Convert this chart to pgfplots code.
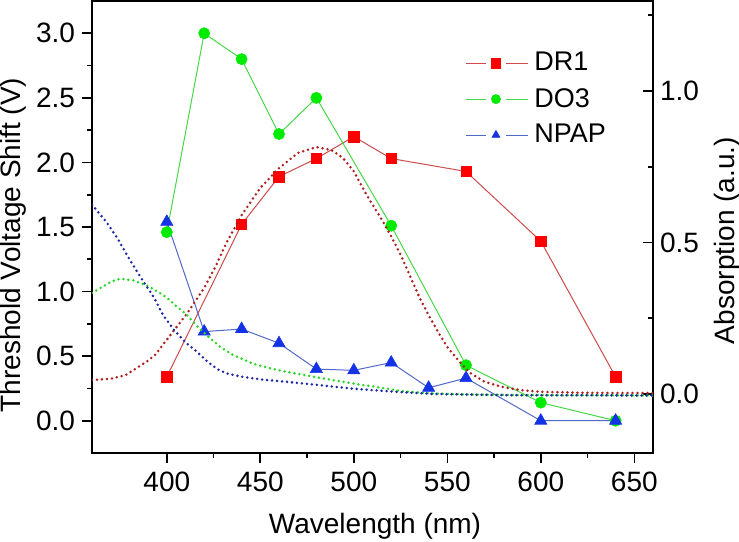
\documentclass[border=0pt]{standalone}
\usepackage{pgfplots}
\pgfplotsset{compat=1.18}
\usepackage{fontspec}
\setmainfont{Liberation Sans}
\setsansfont{Liberation Sans}

\definecolor{drm}{RGB}{255,0,0}
\definecolor{drl}{RGB}{205,75,75}
\definecolor{dom}{RGB}{0,235,0}
\definecolor{dol}{RGB}{70,215,70}
\definecolor{npm}{RGB}{20,50,230}
\definecolor{npl}{RGB}{80,105,200}
\definecolor{drd}{RGB}{175,30,30}
\definecolor{dod}{RGB}{40,215,40}
\definecolor{npd}{RGB}{30,40,165}

\pgfplotstableread{
x y
360 0.046
370 0.050
378 0.062
384 0.086
390 0.110
394 0.130
402 0.195
411 0.267
420 0.350
426 0.420
432 0.500
440 0.590
450 0.680
460 0.745
470 0.795
480 0.815
488 0.805
494 0.780
500 0.735
507 0.655
515 0.575
520 0.520
525 0.460
530 0.390
535 0.320
540 0.260
545 0.205
550 0.155
556 0.110
562 0.070
570 0.040
580 0.022
590 0.012
600 0.007
620 0.004
640 0.003
660 0.003
}\drabs

\pgfplotstableread{
x y
360 0.333
366 0.355
370 0.370
375 0.380
382 0.375
390 0.356
395 0.338
400 0.318
405 0.290
410 0.265
416 0.225
422 0.190
428 0.158
435 0.130
446 0.100
455 0.085
464 0.073
482 0.053
500 0.034
515 0.020
526 0.009
540 0.002
560 -0.002
600 -0.004
660 -0.005
}\doabs

\pgfplotstableread{
x y
360 0.625
364 0.595
368 0.565
374 0.510
379 0.455
384 0.405
388 0.366
393 0.320
398 0.260
404 0.210
410 0.170
416 0.140
422 0.105
428 0.078
433 0.066
440 0.057
450 0.048
464 0.040
480 0.030
500 0.017
520 0.008
542 0.000
580 -0.004
660 -0.005
}\npabs

\begin{document}
\begin{tikzpicture}
\pgfplotsset{
  every axis/.append style={font=\fontsize{14}{16}\selectfont},
  every tick label/.append style={font=\fontsize{14}{16}\selectfont},
}
\begin{axis}[
  name=main,
  at={(0,0)}, anchor=south west,
  scale only axis,
  width=280.5pt, height=226pt,
  xmin=360, xmax=660,
  ymin=-0.25, ymax=3.25,
  xtick={400,450,...,650},
  ytick={0,0.5,...,3.0},
  minor x tick num=1,
  minor y tick num=1,
  xtick pos=bottom, ytick pos=left,
  tick align=outside,
  major tick length=5pt,
  minor tick length=2.5pt,
  axis line style={line width=0.8pt},
  every tick/.style={line width=0.8pt, black},
  /pgf/number format/assume math mode=true,
  yticklabel style={/pgf/number format/.cd, fixed, fixed zerofill, precision=1},
  xticklabel style={yshift=-1pt},
  xlabel={Wavelength (nm)},
  ylabel={Threshold Voltage Shift (V)},
  every axis x label/.style={at={(axis description cs:0.5045,-0.179)}, anchor=base, inner sep=0pt},
  every axis y label/.style={at={(axis description cs:-0.164,0.46)}, rotate=90, anchor=north, inner sep=0pt},
  legend style={draw=none, fill=none, at={(axis description cs:0.665,0.896)}, anchor=north west, inner sep=0pt, row sep=3.1pt, font=\fontsize{13.5}{15}\selectfont},
  legend cell align=left,
  legend image code/.code={
    \draw[#1,mark=none] (0pt,0pt) -- (10pt,0pt);
    \draw[#1,mark=none] (20pt,0pt) -- (31pt,0pt);
    \draw[#1,mark size=2.3pt] plot coordinates {(15pt,0pt)};
    \path (32pt,0pt);
  },
]
\addplot[drl, line width=0.5pt, mark=square*, mark size=2.6pt, mark options={draw=drm, fill=drm, line width=0.3pt}]
  coordinates {(400,0.34) (440,1.52) (460,1.89) (480,2.03) (500,2.20) (520,2.03) (560,1.93) (600,1.39) (640,0.34)};
\addlegendentry{DR1}
\addplot[dol, line width=0.5pt, mark=*, mark size=2.8pt, mark options={draw=dom, fill=dom, line width=0.3pt}]
  coordinates {(400,1.46) (420,3.00) (440,2.80) (460,2.22) (480,2.50) (520,1.51) (560,0.43) (600,0.14) (640,0.00)};
\addlegendentry{DO3}
\addplot[npl, line width=0.5pt, mark=triangle*, mark size=3.5pt, mark options={draw=npm, fill=npm, line width=0.3pt}]
  coordinates {(400,1.54) (420,0.69) (440,0.71) (460,0.60) (480,0.40) (500,0.39) (520,0.45) (540,0.255) (560,0.33) (600,0.00) (640,0.00)};
\addlegendentry{NPAP}
\end{axis}

\begin{axis}[
  at={(0,0)}, anchor=south west,
  scale only axis,
  width=280.5pt, height=226pt,
  xmin=360, xmax=660,
  ymin=-0.195, ymax=1.297,
  axis x line=none,
  axis y line*=right,
  ytick={0,0.5,1.0},
  minor ytick={-0.25,0.25,0.75,1.25},
  ytick pos=right,
  tick align=inside,
  major tick length=5pt,
  minor tick length=2.5pt,
  axis line style={line width=0.8pt},
  every tick/.style={line width=0.8pt, black},
  /pgf/number format/assume math mode=true,
  yticklabel style={/pgf/number format/.cd, fixed, fixed zerofill, precision=1},
  ylabel={Absorption (a.u.)},
  every axis y label/.style={at={(axis description cs:1.1087,0.47)}, rotate=90, anchor=north, inner sep=0pt},
]
\addplot[drd, line width=1.4pt, line cap=round, dash pattern=on 0pt off 2.5pt] table[x=x,y=y] {\drabs};
\addplot[dod, line width=1.4pt, line cap=round, dash pattern=on 0pt off 2.5pt] table[x=x,y=y] {\doabs};
\addplot[npd, line width=1.4pt, line cap=round, dash pattern=on 0pt off 2.5pt] table[x=x,y=y] {\npabs};
\end{axis}

\pgfresetboundingbox
\path (main.south west) ++(-46pt,-44pt) rectangle ++(369.5pt,270.5pt);
\end{tikzpicture}
\end{document}
